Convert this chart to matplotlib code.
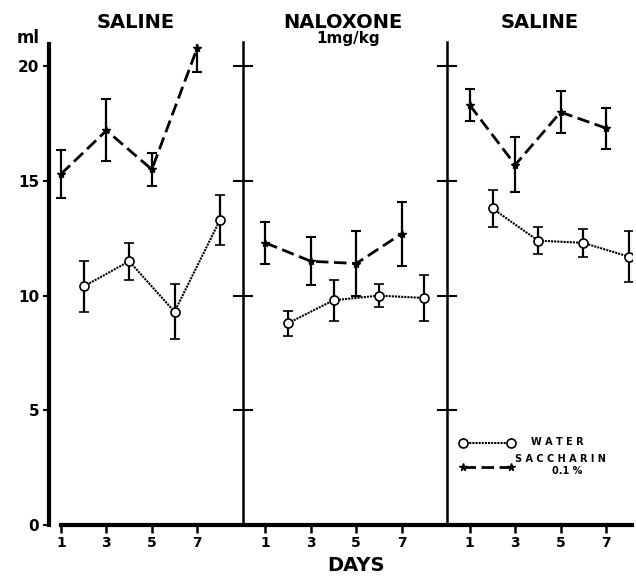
import numpy as np
import matplotlib
matplotlib.use("Agg")
import matplotlib.pyplot as plt

# days of measurement in each phase
sacc_days = [1, 3, 5, 7]
water_days = [2, 4, 6, 8]

# saccharin 0.1% intake (ml) and error bars, per phase
sacc_vals = [[15.3, 17.2, 15.5, 20.8],
             [12.3, 11.5, 11.4, 12.7],
             [18.3, 15.7, 18.0, 17.3]]
sacc_err = [[1.05, 1.35, 0.7, 1.05],
            [0.9, 1.05, 1.4, 1.4],
            [0.7, 1.2, 0.9, 0.9]]

# water intake (ml) and error bars, per phase
water_vals = [[10.4, 11.5, 9.3, 13.3],
              [8.8, 9.8, 10.0, 9.9],
              [13.8, 12.4, 12.3, 11.7]]
water_err = [[1.1, 0.8, 1.2, 1.1],
             [0.55, 0.9, 0.5, 1.0],
             [0.8, 0.6, 0.6, 1.1]]

yticks = [0, 5, 10, 15, 20]
xtick_days = [1, 3, 5, 7]
span = 9  # width of one phase on the shared x axis

fig = plt.figure(figsize=(6.36, 5.77), dpi=100)
ax = fig.add_axes([0.077, 0.09, 0.917, 0.833])
ax.set_xlim(0.47, 26.15)
ax.set_ylim(0, 20.95)

water_ls = (0, (1, 0.5))
sacc_ls = (0, (4.5, 2))

for i in range(3):
    off = i * span
    xs = [d + off for d in sacc_days]
    xw = [d + off for d in water_days]
    ax.errorbar(xs, sacc_vals[i], yerr=sacc_err[i], color="black", lw=2,
                ls=sacc_ls, marker="*", ms=6, capsize=3.5, capthick=1.5,
                elinewidth=1.6)
    ax.errorbar(xw, water_vals[i], yerr=water_err[i], color="black", lw=1.5,
                ls=water_ls, marker="o", ms=6.5, mfc="white", mec="black",
                mew=1.2, capsize=3.5, capthick=1.5, elinewidth=1.6)

# phase titles
ax.text(4.3, 21.67, "SALINE", ha="center", va="baseline", fontsize=14,
        fontweight="bold", clip_on=False)
ax.text(13.42, 21.67, "NALOXONE", ha="center", va="baseline", fontsize=14,
        fontweight="bold", clip_on=False)
ax.text(13.64, 21.0, "1mg/kg", ha="center", va="baseline", fontsize=11,
        fontweight="bold", clip_on=False)
ax.text(22.06, 21.67, "SALINE", ha="center", va="baseline", fontsize=14,
        fontweight="bold", clip_on=False)

# phase dividers with crossing ticks
for xd in [span, 2 * span]:
    ax.plot([xd, xd], [0, 21.05], color="black", lw=1.8, clip_on=False)
    for yt in yticks[1:]:
        ax.plot([xd - 0.4, xd + 0.4], [yt, yt], color="black", lw=1.5)

# axes styling
for s in ["top", "right"]:
    ax.spines[s].set_visible(False)
ax.spines["left"].set_linewidth(3)
ax.spines["bottom"].set_linewidth(3)
ax.spines["bottom"].set_bounds(1, 26.15)
ax.set_yticks(yticks)
ax.set_yticklabels([str(v) for v in yticks], fontsize=11, fontweight="bold")
ax.tick_params(axis="y", length=4, width=1.5, pad=3)

xt = [d + i * span for i in range(3) for d in xtick_days]
ax.set_xticks(xt)
ax.set_xticklabels([str(d) for i in range(3) for d in xtick_days],
                   fontsize=10, fontweight="bold")
ax.tick_params(axis="x", length=6, width=1.8, pad=2)

ax.text(-0.45, 21.0, "ml", ha="center", va="baseline", fontsize=12,
        fontweight="bold", clip_on=False)
ax.text(14.0, -1.75, "DAYS", ha="center", va="center", fontsize=14,
        fontweight="bold", clip_on=False)

# legend drawn by hand
ax.plot([18.7, 20.8], [3.57, 3.57], color="black", lw=1.5, ls=water_ls)
ax.plot([18.7, 20.8], [3.57, 3.57], ls="none", marker="o", ms=6.5,
        mfc="white", mec="black", mew=1.2)
ax.plot([18.7, 20.8], [2.53, 2.53], color="black", lw=2, ls=sacc_ls,
        marker="*", ms=5.5)
ax.text(21.7, 3.62, "W A T E R", ha="left", va="center", fontsize=7,
        fontweight="bold")
ax.text(21.0, 2.88, "S A C C H A R I N", ha="left", va="center", fontsize=7,
        fontweight="bold")
ax.text(23.3, 2.35, "0.1 %", ha="center", va="center", fontsize=7,
        fontweight="bold")

fig.savefig("out.png", dpi=100)
